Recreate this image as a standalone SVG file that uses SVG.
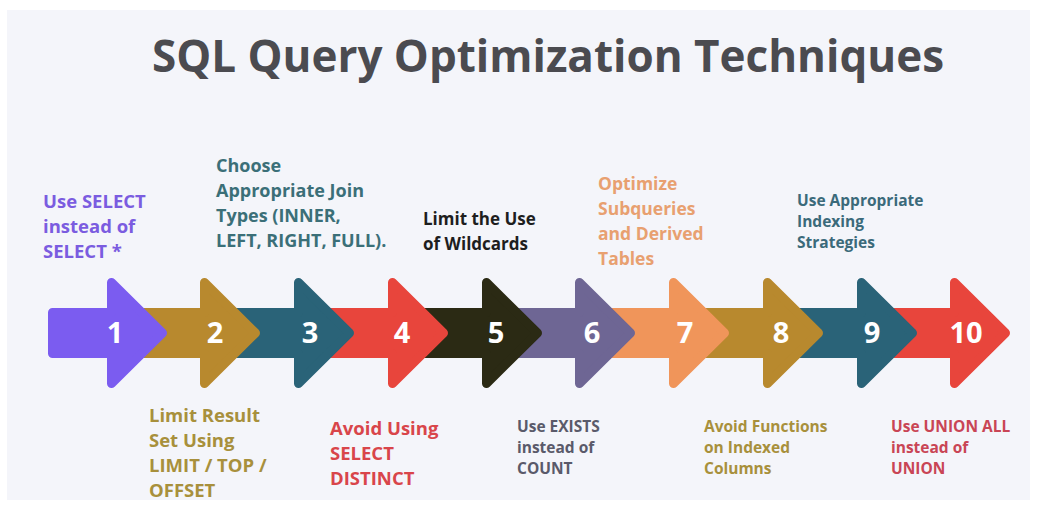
<svg xmlns="http://www.w3.org/2000/svg" xmlns:xlink="http://www.w3.org/1999/xlink" width="1037" height="506" viewBox="0 0 1037 506">
<style>
.t{font-family:"Open Sans","Liberation Sans",sans-serif;font-weight:700}
.num{font-family:"Open Sans","Liberation Sans",sans-serif;font-weight:700;font-size:29px;fill:#ffffff;text-anchor:middle}
.lbl{font-family:"Open Sans","Liberation Sans",sans-serif;font-weight:700}
.arrow{stroke-width:9;stroke-linejoin:round}
</style>
<defs>
<path id="arr" d="M -66,-20.5 H 4.5 V -50.5 L 55.5,0 L 4.5,50.5 V 20.5 H -66 Z"/>
<path id="arr1" d="M -54.5,-20.5 H 4.5 V -50.5 L 55.5,0 L 4.5,50.5 V 20.5 H -54.5 Z"/>
</defs>
<rect width="1037" height="506" fill="#ffffff"/>
<rect x="7" y="10" width="1023" height="490" fill="#f4f5fa"/>
<text class="t" x="548" y="72" font-size="44" fill="#4b4b50" text-anchor="middle">SQL Query Optimization Techniques</text>

<g id="connectors"></g>

<g id="step10"><use xlink:href="#arr" x="950" y="333" class="arrow" fill="#e8453c" stroke="#e8453c"/><text class="num" x="966" y="343">10</text>
<text class="lbl" font-size="15.5" fill="#c94555"><tspan x="891" y="432">Use UNION ALL</tspan><tspan x="891" y="453">instead of</tspan><tspan x="891" y="474">UNION</tspan></text></g>
<g id="step9"><use xlink:href="#arr" x="857" y="333" class="arrow" fill="#2a6378" stroke="#2a6378"/><text class="num" x="872" y="343">9</text>
<text class="lbl" font-size="15.5" fill="#3b6a7a"><tspan x="797" y="206">Use Appropriate</tspan><tspan x="797" y="227">Indexing</tspan><tspan x="797" y="248">Strategies</tspan></text></g>
<g id="step8"><use xlink:href="#arr" x="763" y="333" class="arrow" fill="#b8892e" stroke="#b8892e"/><text class="num" x="781" y="343">8</text>
<text class="lbl" font-size="15.5" fill="#a8903c"><tspan x="704" y="432">Avoid Functions</tspan><tspan x="704" y="453">on Indexed</tspan><tspan x="704" y="474">Columns</tspan></text></g>
<g id="step7"><use xlink:href="#arr" x="669" y="333" class="arrow" fill="#f0955a" stroke="#f0955a"/><text class="num" x="685" y="343">7</text>
<text class="lbl" font-size="17.5" fill="#e8a070"><tspan x="598" y="190">Optimize</tspan><tspan x="598" y="215">Subqueries</tspan><tspan x="598" y="240">and Derived</tspan><tspan x="598" y="265">Tables</tspan></text></g>
<g id="step6"><use xlink:href="#arr" x="575" y="333" class="arrow" fill="#6e6694" stroke="#6e6694"/><text class="num" x="592" y="343">6</text>
<text class="lbl" font-size="15.5" fill="#5a5a6a"><tspan x="517" y="432">Use EXISTS</tspan><tspan x="517" y="453">instead of</tspan><tspan x="517" y="474">COUNT</tspan></text></g>
<g id="step5"><use xlink:href="#arr" x="482" y="333" class="arrow" fill="#2b2a14" stroke="#2b2a14"/><text class="num" x="496" y="343">5</text>
<text class="lbl" font-size="17" fill="#1e1e1e"><tspan x="423" y="225">Limit the Use</tspan><tspan x="423" y="250">of Wildcards</tspan></text></g>
<g id="step4"><use xlink:href="#arr" x="388" y="333" class="arrow" fill="#e8453c" stroke="#e8453c"/><text class="num" x="402" y="343">4</text>
<text class="lbl" font-size="18.5" fill="#d9454a"><tspan x="330" y="435">Avoid Using</tspan><tspan x="330" y="460">SELECT</tspan><tspan x="330" y="485">DISTINCT</tspan></text></g>
<g id="step3"><use xlink:href="#arr" x="294" y="333" class="arrow" fill="#2a6378" stroke="#2a6378"/><text class="num" x="310" y="343">3</text>
<text class="lbl" font-size="18" fill="#3b6f78"><tspan x="216" y="172">Choose</tspan><tspan x="216" y="197">Appropriate Join</tspan><tspan x="216" y="222">Types (INNER,</tspan><tspan x="216" y="247">LEFT, RIGHT, FULL).</tspan></text></g>
<g id="step2"><use xlink:href="#arr" x="200" y="333" class="arrow" fill="#b8892e" stroke="#b8892e"/><text class="num" x="215" y="343">2</text>
<text class="lbl" font-size="18.5" fill="#a8903c"><tspan x="149" y="422">Limit Result</tspan><tspan x="149" y="447">Set Using</tspan><tspan x="149" y="472">LIMIT / TOP /</tspan><tspan x="149" y="497">OFFSET</tspan></text></g>
<g id="step1"><use xlink:href="#arr1" x="107" y="333" class="arrow" fill="#7b5cf0" stroke="#7b5cf0"/><text class="num" x="115" y="343">1</text>
<text class="lbl" font-size="18.5" fill="#7b5ce0"><tspan x="43" y="208">Use SELECT</tspan><tspan x="43" y="233">instead of</tspan><tspan x="43" y="258">SELECT *</tspan></text></g>
</svg>
